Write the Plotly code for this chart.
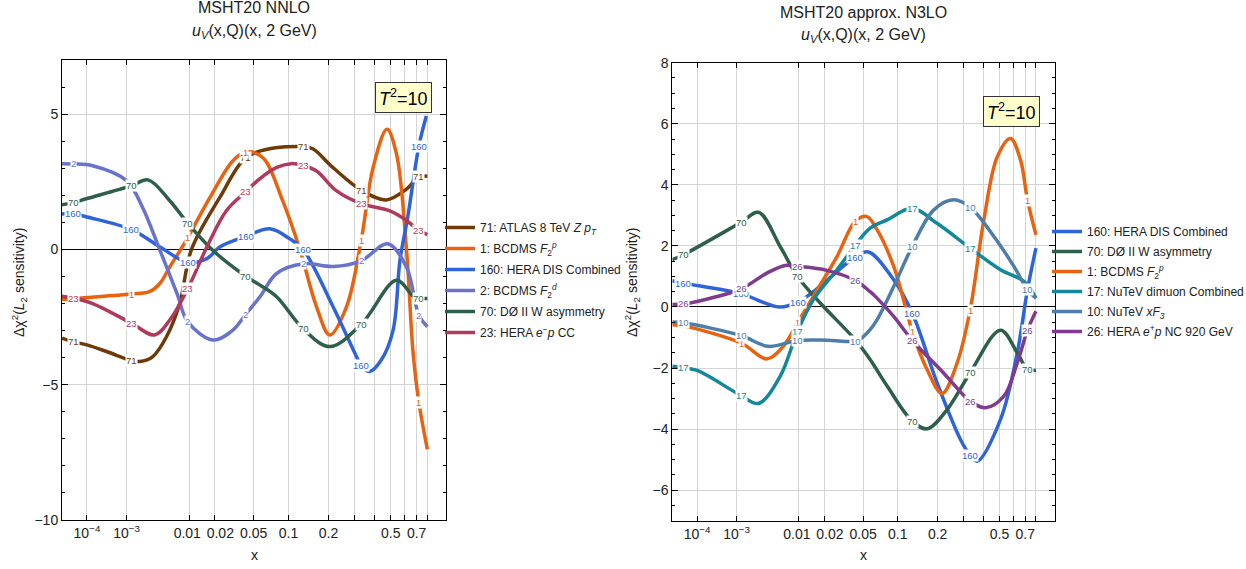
import plotly.graph_objects as go

# ---------------- data ----------------
LABEL_X = [3.2e-5, 1.23e-3, 9.6e-3, 0.042, 0.13, 0.33, 0.72]

X_TICK_VALUES = [1e-4, 1e-3, 0.01, 0.02, 0.05, 0.1, 0.2, 0.3, 0.4, 0.5, 0.6, 0.7, 0.8]
X_TICK_TEXT = ["10<sup>\u22124</sup>", "10<sup>\u22123</sup>", "0.01\u00a0", "\u00a0\u00a0\u00a00.02", "0.05",
               "0.1", "0.2", "", "", "0.5", "", "0.7", ""]

# ---- left panel: MSHT20 NNLO ----
nnlo_71_x = [1e-5, 3.2e-5, 1e-4, 4e-4, 1.23e-3, 1.8e-3, 3e-3, 4.9e-3, 7.5e-3, 0.0107, 0.0229, 0.042,
             0.066, 0.13, 0.154, 0.214, 0.33, 0.47, 0.615, 0.72, 0.8]
nnlo_71_y = [-3.28, -3.41, -3.53, -3.8, -4.1, -4.14, -3.96, -3.22, -2.0, 0.0, 1.92, 3.39,
             3.7, 3.8, 3.72, 3.03, 2.19, 1.83, 2.23, 2.68, 2.7]

nnlo_1_x = [1e-5, 3.2e-5, 1e-4, 1.23e-3, 2.7e-3, 3.9e-3, 5.45e-3, 9.6e-3, 0.0178, 0.0313, 0.042, 0.0606,
            0.0895, 0.1228, 0.164, 0.204, 0.265, 0.33, 0.392, 0.475, 0.54, 0.615, 0.669, 0.72, 0.8]
nnlo_1_y = [-1.85, -1.82, -1.78, -1.65, -1.55, -1.25, -0.65, 0.44, 1.92, 3.27, 3.6, 3.39,
            1.8, 0.0, -2.12, -3.16, -2.12, 0.33, 3.03, 4.44, 3.52, 0.0, -3.8, -5.65, -7.39]

nnlo_160_x = [1e-5, 3.2e-5, 1e-4, 1.23e-3, 3.9e-3, 9.6e-3, 0.0164, 0.0229, 0.042, 0.0697, 0.1024, 0.13,
              0.215, 0.308, 0.33, 0.374, 0.44, 0.516, 0.565, 0.625, 0.72, 0.79]
nnlo_160_y = [1.31, 1.32, 1.2, 0.74, 0.09, -0.48, -0.34, 0.09, 0.48, 0.76, 0.39, 0.0,
              -2.12, -3.96, -4.3, -4.51, -4.08, -2.98, -0.4, 1.19, 3.82, 4.93]

nnlo_2_x = [1e-5, 3.2e-5, 1.5e-4, 1.0e-3, 2.0e-3, 3.9e-3, 6.9e-3, 9.6e-3, 0.0193, 0.0314, 0.042, 0.0571,
            0.0797, 0.13, 0.215, 0.33, 0.48, 0.615, 0.72, 0.8]
nnlo_2_y = [3.17, 3.16, 3.09, 2.54, 1.56, -0.04, -1.63, -2.68, -3.35, -2.98, -2.4, -1.75,
            -0.89, -0.53, -0.63, -0.42, 0.21, -0.65, -2.43, -2.86]

nnlo_70_x = [1e-5, 3.2e-5, 1e-4, 1.23e-3, 2.5e-3, 5.45e-3, 9.6e-3, 0.0193, 0.042, 0.0571, 0.0797, 0.13,
             0.204, 0.33, 0.54, 0.669, 0.72, 0.8]
nnlo_70_y = [1.65, 1.73, 1.88, 2.35, 2.57, 1.8, 0.97, -0.04, -0.99, -1.32, -1.75, -2.93,
             -3.59, -2.77, -1.14, -1.72, -1.8, -1.81]

nnlo_23_x = [1e-5, 3.2e-5, 1.5e-4, 1.23e-3, 3.2e-3, 5.45e-3, 9.6e-3, 0.0164, 0.0269, 0.042, 0.0571, 0.08,
             0.105, 0.13, 0.164, 0.226, 0.33, 0.49, 0.615, 0.72, 0.8]
nnlo_23_y = [-1.73, -1.8, -2.0, -2.72, -3.16, -2.61, -1.45, 0.09, 1.43, 2.13, 2.62, 3.03,
             3.17, 3.1, 2.9, 2.17, 1.69, 1.43, 1.07, 0.7, 0.55]

# ---- right panel: MSHT20 approx. N3LO ----
n3lo_160_x = [1e-5, 3.2e-5, 1.23e-3, 5.4e-3, 9.6e-3, 0.0162, 0.042, 0.056, 0.0926, 0.13, 0.198, 0.286,
              0.33, 0.366, 0.507, 0.632, 0.72, 0.8]
n3lo_160_y = [0.86, 0.78, 0.43, 0.0, 0.15, 0.57, 1.63, 1.8, 0.89, -0.2, -2.48, -4.34,
              -4.85, -5.05, -3.68, -1.5, 0.57, 1.93]

n3lo_70_x = [1e-5, 3.2e-5, 1.23e-3, 2.56e-3, 5.55e-3, 9.6e-3, 0.0181, 0.042, 0.058, 0.0817, 0.13, 0.168,
             0.233, 0.33, 0.507, 0.632, 0.72, 0.8]
n3lo_70_y = [1.55, 1.71, 2.77, 3.1, 1.98, 1.0, 0.13, -1.07, -1.72, -2.59, -3.74, -3.99,
             -3.36, -2.16, -0.76, -1.5, -2.05, -2.07]

n3lo_1_x = [1e-5, 3.2e-5, 1.23e-3, 3.5e-3, 6.15e-3, 9.6e-3, 0.0151, 0.0276, 0.042, 0.0543, 0.0668, 0.0926,
            0.1186, 0.13, 0.168, 0.215, 0.272, 0.33, 0.4025, 0.485, 0.579, 0.659, 0.72, 0.8]
n3lo_1_y = [-0.58, -0.62, -1.18, -1.7, -1.29, -0.52, 0.35, 1.65, 2.8, 2.96, 2.53, 1.33,
            -0.2, -0.8, -2.05, -2.83, -1.83, -0.11, 2.85, 4.92, 5.52, 4.81, 3.5, 2.36]

n3lo_17_x = [1e-5, 3.2e-5, 1e-4, 1.23e-3, 2.56e-3, 5.55e-3, 9.6e-3, 0.0151, 0.0276, 0.042, 0.058, 0.0817,
             0.13, 0.198, 0.33, 0.507, 0.688, 0.8]
n3lo_17_y = [-1.94, -1.99, -2.08, -2.9, -3.16, -2.27, -0.8, 0.24, 1.22, 2.01, 2.58, 2.85,
             3.23, 2.74, 1.93, 1.22, 0.84, 0.29]

n3lo_10_x = [1e-5, 3.2e-5, 1.23e-3, 3.7e-3, 9.6e-3, 0.0215, 0.042, 0.047, 0.058, 0.0668, 0.0926, 0.13,
             0.188, 0.258, 0.33, 0.463, 0.605, 0.72, 0.8]
n3lo_10_y = [-0.49, -0.52, -0.94, -1.29, -1.1, -1.09, -1.12, -1.05, -0.74, -0.42, 0.67, 1.98,
             3.18, 3.51, 3.27, 2.31, 1.33, 0.57, 0.29]

n3lo_26_x = [1e-5, 3.2e-5, 1e-4, 1.23e-3, 3.5e-3, 6.55e-3, 9.6e-3, 0.0215, 0.042, 0.058, 0.0668, 0.0926,
             0.13, 0.22, 0.33, 0.412, 0.53, 0.632, 0.72, 0.8]
n3lo_26_y = [0.08, 0.1, 0.18, 0.59, 1.11, 1.36, 1.33, 1.2, 0.87, 0.5, 0.29, -0.31,
             -1.09, -2.16, -3.08, -3.3, -2.92, -1.83, -0.76, -0.14]

# (id, legend text, x, y, colour, indices of LABEL_X carrying a label)
LEFT = [
    ("71", "71: ATLAS 8 TeV <i>Z p</i><sub><i>T</i></sub>", nnlo_71_x, nnlo_71_y, "#6E3A07", [0, 1, 3, 4, 5, 6]),
    ("1", "1: BCDMS <i>F</i><sub>2</sub><sup><i>p</i></sup>", nnlo_1_x, nnlo_1_y, "#E8620F", [1, 2, 3, 5, 6]),
    ("160", "160: HERA DIS Combined", nnlo_160_x, nnlo_160_y, "#2F64D8", [0, 1, 2, 3, 4, 5, 6]),
    ("2", "2: BCDMS <i>F</i><sub>2</sub><sup><i>d</i></sup>", nnlo_2_x, nnlo_2_y, "#6A73CB", [0, 2, 3, 4, 5, 6]),
    ("70", "70: D\u00d8 II W asymmetry", nnlo_70_x, nnlo_70_y, "#2E5F4B", [0, 1, 2, 3, 4, 5, 6]),
    ("23", "23: HERA <i>e</i><sup>\u2212</sup><i>p</i> CC", nnlo_23_x, nnlo_23_y, "#B0395C", [0, 1, 2, 3, 4, 5, 6]),
]
RIGHT = [
    ("160", "160: HERA DIS Combined", n3lo_160_x, n3lo_160_y, "#2F64D8", [0, 1, 2, 3, 4, 5]),
    ("70", "70: D\u00d8 II W asymmetry", n3lo_70_x, n3lo_70_y, "#2E5F4B", [0, 1, 2, 4, 5, 6]),
    ("1", "1: BCDMS <i>F</i><sub>2</sub><sup><i>p</i></sup>", n3lo_1_x, n3lo_1_y, "#E8620F", [1, 2, 3, 4, 5, 6]),
    ("17", "17: NuTeV dimuon Combined", n3lo_17_x, n3lo_17_y, "#12889A", [0, 1, 2, 3, 4, 5]),
    ("10", "10: NuTeV <i>xF</i><sub><i>3</i></sub>", n3lo_10_x, n3lo_10_y, "#4D7EAA", [0, 1, 2, 3, 4, 5, 6]),
    ("26", "26: HERA <i>e</i><sup>+</sup><i>p</i> NC 920 GeV", n3lo_26_x, n3lo_26_y, "#7F3B8D", [0, 1, 2, 3, 4, 5, 6]),
]

# ---------------- figure ----------------
W, H = 1246, 569
FONT = "Liberation Sans, Arial, sans-serif"
POW = 0.2  # horizontal scale is x^0.2


def tx(v):
    return v ** POW


def pxx(p):
    return p / W


def pxy(p):
    return 1 - p / H


fig = go.Figure()
annotations = []

for panel, series, xa, ya, leg in (("L", LEFT, "x", "y", "legend"), ("R", RIGHT, "x2", "y2", "legend2")):
    for sid, name, xs, ys, col, lab_idx in series:
        fig.add_trace(go.Scatter(
            x=[tx(v) for v in xs], y=ys, mode="lines", name=name,
            legendgroup=panel + sid,
            line=dict(color=col, width=3.5, shape="spline", smoothing=1.0),
            xaxis=xa, yaxis=ya, legend=leg, hoverinfo="skip"))
    for sid, name, xs, ys, col, lab_idx in series:
        for i in lab_idx:
            lx = LABEL_X[i]
            k = xs.index(lx)
            annotations.append(dict(
                x=tx(lx), y=ys[k], xref=xa, yref=ya, text=sid, showarrow=False,
                xanchor="center", yanchor="middle",
                font=dict(family=FONT, size=9.5, color=col), bgcolor="white",
                borderpad=0, opacity=1))

xaxis_common = dict(
    range=[tx(1e-5), tx(1.0)], tickmode="array",
    tickvals=[tx(v) for v in X_TICK_VALUES], ticktext=X_TICK_TEXT,
    ticks="inside", ticklen=5, tickcolor="black", showline=True, linecolor="black", linewidth=1,
    mirror="ticks", showgrid=True, gridcolor="#d4d4d4", gridwidth=1, zeroline=False,
    tickfont=dict(family=FONT, size=14, color="#222"), tickangle=0, automargin=False,
)
yaxis_common = dict(
    ticks="inside", ticklen=6, tickcolor="black", showline=True, linecolor="black", linewidth=1,
    mirror="ticks", showgrid=True, gridcolor="#d4d4d4", gridwidth=1,
    zeroline=True, zerolinecolor="black", zerolinewidth=1,
    tickfont=dict(family=FONT, size=14, color="#222"), automargin=False,
)

fig.update_layout(
    width=W, height=H, margin=dict(l=0, r=0, t=0, b=0, pad=0, autoexpand=False), autosize=False,
    paper_bgcolor="white", plot_bgcolor="white",
    font=dict(family=FONT, color="#222"),
    xaxis=dict(domain=[pxx(62), pxx(446)], anchor="y", **xaxis_common),
    yaxis=dict(domain=[pxy(520), pxy(60)], anchor="x", range=[-10, 7], tick0=0, dtick=5,
               minor=dict(tick0=0, dtick=1, ticks="inside", ticklen=3, tickcolor="black", showgrid=False),
               **yaxis_common),
    xaxis2=dict(domain=[pxx(672.3), pxx(1054.5)], anchor="y2", **xaxis_common),
    yaxis2=dict(domain=[pxy(520.7), pxy(62.7)], anchor="x2", range=[-7, 8], tick0=0, dtick=2,
                minor=dict(tick0=0, dtick=0.5, ticks="inside", ticklen=3, tickcolor="black", showgrid=False),
                **yaxis_common),
    legend=dict(x=pxx(440), y=pxy(213), xanchor="left", yanchor="top", bgcolor="rgba(0,0,0,0)",
                font=dict(family=FONT, size=12, color="#222"), itemwidth=30, tracegroupgap=2),
    legend2=dict(x=pxx(1047), y=pxy(217), xanchor="left", yanchor="top", bgcolor="rgba(0,0,0,0)",
                 font=dict(family=FONT, size=12, color="#222"), itemwidth=30, tracegroupgap=1),
    showlegend=True,
)

# titles
TITLE_FONT = dict(family=FONT, size=16, color="#222")
annotations += [
    dict(x=pxx(254), y=pxy(7.5), text="MSHT20 NNLO", font=TITLE_FONT),
    dict(x=pxx(254), y=pxy(31), text="<i>u</i><sub><i>V</i></sub>(x,Q)(x, 2 GeV)", font=TITLE_FONT),
    dict(x=pxx(863), y=pxy(13), text="MSHT20 approx. N3LO", font=TITLE_FONT),
    dict(x=pxx(863), y=pxy(36), text="<i>u</i><sub><i>V</i></sub>(x,Q)(x, 2 GeV)", font=TITLE_FONT),
    # axis titles
    dict(x=pxx(254), y=pxy(555), text="x", font=dict(family=FONT, size=14, color="#222")),
    dict(x=pxx(863), y=pxy(555), text="x", font=dict(family=FONT, size=14, color="#222")),
    dict(x=pxx(19), y=pxy(283), text="\u0394\u03c7<sup>2</sup>(<i>L</i><sub>2</sub> sensitivity)",
         textangle=-90, font=dict(family=FONT, size=14, color="#222")),
    dict(x=pxx(632), y=pxy(283), text="\u0394\u03c7<sup>2</sup>(<i>L</i><sub>2</sub> sensitivity)",
         textangle=-90, font=dict(family=FONT, size=14, color="#222")),
    # T^2 boxes
    dict(x=pxx(403), y=pxy(97), text="<i>T</i><sup>2</sup>=10",
         font=dict(family=FONT, size=18, color="black"), bgcolor="#FFFFCC", bordercolor="#333",
         borderwidth=1, borderpad=3),
    dict(x=pxx(1012), y=pxy(111), text="<i>T</i><sup>2</sup>=10",
         font=dict(family=FONT, size=18, color="black"), bgcolor="#FFFFCC", bordercolor="#333",
         borderwidth=1, borderpad=3),
]
for a in annotations[-10:]:
    a.update(xref="paper", yref="paper", showarrow=False, xanchor="center", yanchor="middle")
fig.update_layout(annotations=annotations)

PIN = ("document.documentElement.style.margin='0px';document.body.style.margin='0px';"
       "document.body.style.overflow='hidden';"
       "var g=document.getElementById('{plot_id}');g.style.position='fixed';"
       "g.style.left='0px';g.style.top='0px';")
fig.write_html("out.html", config={"displayModeBar": False}, post_script=PIN)
